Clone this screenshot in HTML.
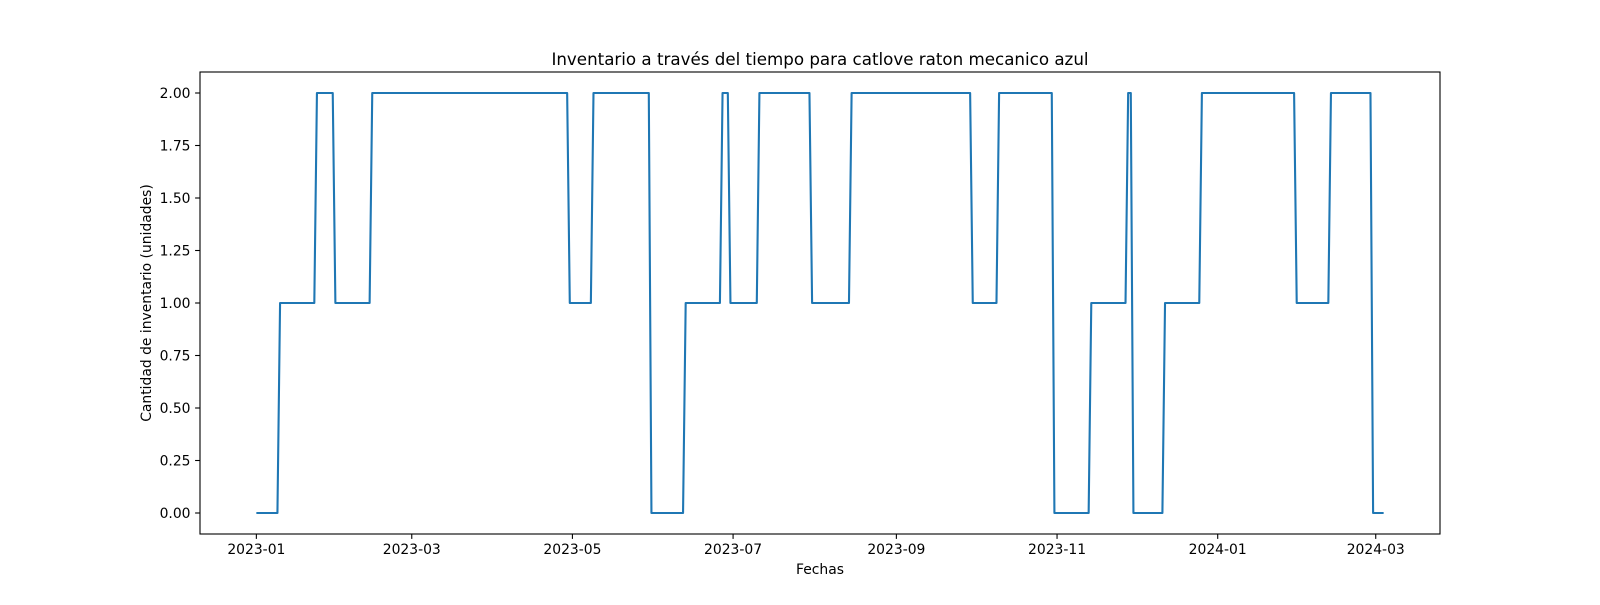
<!DOCTYPE html>
<html><head><meta charset="utf-8"><style>
html,body{margin:0;padding:0;background:#fff;}
svg text{font-family:"DejaVu Sans","Liberation Sans",sans-serif;fill:#000;}
</style></head><body>
<svg id="chart" width="1600" height="600" xmlns="http://www.w3.org/2000/svg">
<rect width="1600" height="600" fill="#fff"/>
<text x="820" y="65" font-size="16.7" text-anchor="middle">Inventario a través del tiempo para catlove raton mecanico azul</text>
<text x="820" y="574" font-size="13.9" text-anchor="middle">Fechas</text>
<text x="0" y="0" font-size="13.9" text-anchor="middle" transform="translate(151,303) rotate(-90)">Cantidad de inventario (unidades)</text>
<g id="ticks"></g>
<g id="series"></g>
<rect x="200" y="72" width="1240" height="462" fill="none" stroke="#000" stroke-width="1.1"/>
</svg>
<script>
const changeDates = ["2023-01-01","2023-01-10","2023-01-24","2023-01-31","2023-02-14","2023-04-30","2023-05-09","2023-05-31","2023-06-13","2023-06-27","2023-06-30","2023-07-11","2023-07-31","2023-08-15","2023-09-30","2023-10-10","2023-10-31","2023-11-14","2023-11-28","2023-11-30","2023-12-12","2023-12-26","2024-01-31","2024-02-13","2024-02-29"];
const changeValues = [0,1,2,1,2,1,2,0,1,2,1,2,1,2,1,2,0,1,2,0,1,2,1,2,0];
const endDate = "2024-03-04";
const yTicks = [0,0.25,0.5,0.75,1,1.25,1.5,1.75,2];
const xTickDates = ["2023-01-01","2023-03-01","2023-05-01","2023-07-01","2023-09-01","2023-11-01","2024-01-01","2024-03-01"];
const xTickLabels = ["2023-01","2023-03","2023-05","2023-07","2023-09","2023-11","2024-01","2024-03"];

const NS="http://www.w3.org/2000/svg";
const t0=Date.UTC(2023,0,1), DAY=86400000;
function days(s){const p=s.split("-");return (Date.UTC(+p[0],+p[1]-1,+p[2])-t0)/DAY;}
const dMin=0, dMax=days(endDate), span=dMax-dMin;
const xLo=dMin-0.05*span, xHi=dMax+0.05*span;
function xs(d){return 200+(d-xLo)/(xHi-xLo)*1240;}
const yLo=-0.1, yHi=2.1;
function ys(v){return 534-(v-yLo)/(yHi-yLo)*462;}

const tg=document.getElementById("ticks");
yTicks.forEach(v=>{
  const y=ys(v);
  const l=document.createElementNS(NS,"line");
  
  
  l.setAttribute("x1",195.1);l.setAttribute("x2",200);l.setAttribute("y1",y);l.setAttribute("y2",y);l.setAttribute("stroke","#000");l.setAttribute("stroke-width","1.1");
  tg.appendChild(l);
  const t=document.createElementNS(NS,"text");
  
  
  t.setAttribute("x",190.5);t.setAttribute("y",y+5);t.setAttribute("font-size","13.9");t.setAttribute("text-anchor","end");
  t.textContent=v.toFixed(2);tg.appendChild(t);
});
xTickDates.forEach((s,i)=>{
  const x=xs(days(s));
  const l=document.createElementNS(NS,"line");
  
  
  l.setAttribute("x1",x);l.setAttribute("x2",x);l.setAttribute("y1",534);l.setAttribute("y2",538.9);l.setAttribute("stroke","#000");l.setAttribute("stroke-width","1.1");
  tg.appendChild(l);
  const t=document.createElementNS(NS,"text");
  
  
  t.setAttribute("x",x);t.setAttribute("y",554);t.setAttribute("font-size","13.9");t.setAttribute("text-anchor","middle");
  t.textContent=xTickLabels[i];tg.appendChild(t);
});

let pts=[];
for(let i=0;i<changeDates.length;i++){
  const d=days(changeDates[i]);
  pts.push([xs(d),ys(changeValues[i])]);
  const next=i+1<changeDates.length?days(changeDates[i+1])-1:days(endDate);
  pts.push([xs(next),ys(changeValues[i])]);
}
const p=document.createElementNS(NS,"polyline");


p.setAttribute("points",pts.map(q=>q[0].toFixed(2)+","+q[1].toFixed(2)).join(" "));
p.setAttribute("fill","none");p.setAttribute("stroke","#1f77b4");p.setAttribute("stroke-width","2.1");p.setAttribute("stroke-linejoin","round");
document.getElementById("series").appendChild(p);
</script>
</body></html>
